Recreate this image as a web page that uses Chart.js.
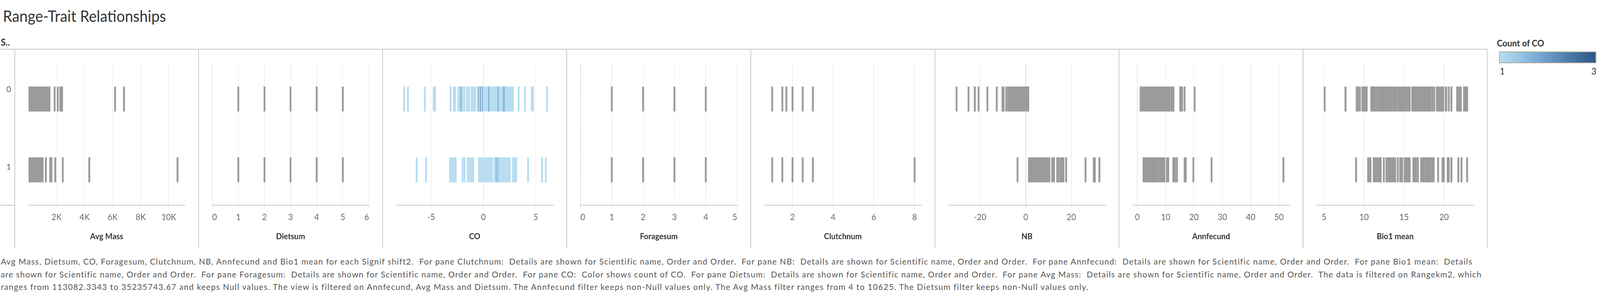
<!DOCTYPE html>
<html>
<head>
<meta charset="utf-8">
<script src="https://cdn.jsdelivr.net/npm/chart.js@4.4.1/dist/chart.umd.min.js"></script>
<style>
html,body{margin:0;padding:0;background:#fff;overflow:hidden;}
#stage{position:absolute;left:0;top:0;width:4328px;height:756px;overflow:hidden;transform-origin:0 0;
  font-family:Lato,'Open Sans',sans-serif;background:#fff;}
.abs{position:absolute;white-space:pre;line-height:1.2;}
#title{left:8px;top:16.5px;font-size:40px;color:#333;}
#rowhdr{left:2px;top:94px;font-size:24px;font-weight:bold;color:#333;}
.rowlbl{left:0;width:30px;text-align:right;font-size:22px;color:#666;}
.cap{left:2px;font-size:22px;color:#555;}
.cap span{display:inline-block;white-space:pre;}
.vline{position:absolute;width:2px;background:#c8c8c8;z-index:5;}
.hline{position:absolute;height:2px;background:#c8c8c8;z-index:5;}
canvas{position:absolute;top:126px;}
#legTitle{left:4049px;top:97px;font-size:23px;font-weight:bold;color:#333;}
#legBar{position:absolute;left:4055px;top:132px;width:263px;height:30px;box-sizing:border-box;border:2px solid #aaa69a;
  background:linear-gradient(to right,#b9ddf1 0%,#8fc0e2 25%,#6a9bc6 50%,#4a78a6 75%,#2a5783 100%);}
.legLbl{top:169px;font-size:23px;color:#333;}
</style>
</head>
<body>
<div id="stage">
<div id="title" class="abs">Range-Trait Relationships</div>
<div id="rowhdr" class="abs">S..</div>
<div class="abs rowlbl" style="top:215px;">0</div>
<div class="abs rowlbl" style="top:414px;">1</div>

<div id="legTitle" class="abs">Count of CO</div>
<div id="legBar"></div>
<div class="abs legLbl" style="left:4057px;">1</div>
<div class="abs legLbl" style="right:10px;text-align:right;">3</div>

<div class="abs cap" style="top:656.5px;"><span class="capline">Avg Mass, Dietsum, CO, Foragesum, Clutchnum, NB, Annfecund and Bio1 mean for each Signif shift2.  For pane Clutchnum:  Details are shown for Scientific name, Order and Order.  For pane NB:  Details are shown for Scientific name, Order and Order.  For pane Annfecund:  Details are shown for Scientific name, Order and Order.  For pane Bio1 mean:  Details</span></div>
<div class="abs cap" style="top:690px;"><span class="capline">are shown for Scientific name, Order and Order.  For pane Foragesum:  Details are shown for Scientific name, Order and Order.  For pane CO:  Color shows count of CO.  For pane Dietsum:  Details are shown for Scientific name, Order and Order.  For pane Avg Mass:  Details are shown for Scientific name, Order and Order.  The data is filtered on Rangekm2, which</span></div>
<div class="abs cap" style="top:721.5px;"><span class="capline">ranges from 113082.3343 to 35235743.67 and keeps Null values. The view is filtered on Annfecund, Avg Mass and Dietsum. The Annfecund filter keeps non-Null values only. The Avg Mass filter ranges from 4 to 10625. The Dietsum filter keeps non-Null values only.</span></div>
</div>

<script>
// ---------------- DATA ----------------
const rows = ['0', '1'];
const paneTitles = ['Avg Mass', 'Dietsum', 'CO', 'Foragesum', 'Clutchnum', 'NB', 'Annfecund', 'Bio1 mean'];

const avgMassRow0 = [40,130,220,310,400,490,580,670,760,850,940,1030,1120,1200,1320,1380,1500,1865,2090,2270,2340,2400,6180,6810];
const avgMassRow1 = [40,130,220,310,400,490,580,670,750,875,945,1010,1236,1550,1640,1910,2450,4337,10625];

const dietsumRow0 = [1,2,3,4,5];
const dietsumRow1 = [1,2,3,4,5];

// CO marks, split by Count of CO
const coRow0Count1 = [-7.58,-7.22,-5.60,-4.75,-4.63,-3.13,-2.83,-2.71,-2.41,-2.29,-2.17,-2.05,-1.99,-1.80,-1.56,-1.44,-1.38,
  -1.14,-1.02,-0.90,-0.78,-0.54,-0.42,-0.30,-0.18,-0.06,0.06,0.18,0.30,0.42,0.54,0.66,0.78,0.90,1.02,1.14,1.26,1.38,1.50,
  1.62,1.74,1.86,1.98,2.10,2.22,2.29,2.47,2.59,2.71,2.83,3.37,3.97,4.63,4.75,6.08];
const coRow0Count2 = [-2.15,-0.46,-0.28,-0.10,0.50,1.40,1.89,2.01];
const coRow1Count1 = [-6.38,-5.48,-3.19,-3.13,-2.95,-2.83,-2.71,-2.65,-1.99,-1.80,-1.50,-1.32,-1.20,-1.08,-0.96,
  -0.42,-0.30,-0.18,-0.06,0.06,0.18,0.30,0.42,0.54,0.66,0.78,0.84,1.08,1.20,1.32,1.44,1.56,1.68,1.80,1.92,2.04,2.11,
  2.29,2.35,2.53,2.83,2.95,3.07,3.13,4.27,5.60,5.96];
const coRow1Count2 = [1.22,1.38];

const foragesumRow0 = [1,2,3,4];
const foragesumRow1 = [1,2,3,4];

const clutchnumRow0 = [1,1.5,1.7,2,2.5,3];
const clutchnumRow1 = [1,1.5,2,2.5,3,8];

const nbRow0 = [-30.3,-25.1,-22.3,-20.7,-16.8,-12.7,-10.2,-9.7,-8.55,-7.7,-7.2,-6.7,-6.2,-5.7,-5.2,-4.7,-4.2,-3.7,-3.2,-2.7,
  -2.2,-1.7,-1.2,-0.7,-0.2,0.3,0.8,1.1];
const nbRow1 = [-3.6,1.4,1.9,2.4,2.9,3.4,3.9,4.4,4.9,5.4,5.9,6.4,6.9,7.4,7.9,8.4,8.9,9.4,9.9,10.4,11.6,12.4,13.8,14.3,
  15.2,15.7,16.2,16.5,17.7,26.2,29.8,30.3,32.3];

const annfecundRow0 = [1.15,1.8,2.25,2.7,3.15,3.6,4.05,4.5,4.95,5.4,5.85,6.3,6.75,7.2,7.65,8.1,8.55,9.0,9.2,9.8,10.25,10.7,
  11.15,11.4,12.07,12.6,12.75,15.14,15.8,16.67,20.2];
const annfecundRow1 = [2.2,2.65,3.1,3.55,4.0,4.45,4.9,5.35,5.8,6.25,6.7,7.1,7.8,8.25,8.7,9.15,9.55,10.45,10.9,12.7,13.3,
  14.0,16.7,17.1,19.78,26.22,51.56];

const bio1Row0 = [5.08,7.68,9.08,9.24,9.48,9.8,10.0,10.17,10.34,10.9,11.05,11.2,11.37,11.61,11.69,11.93,12.09,12.25,12.40,
  12.56,12.72,12.88,13.04,13.2,13.35,13.5,13.74,13.9,14.05,14.29,14.45,14.6,14.75,14.9,15.05,15.16,15.4,15.55,15.71,
  16.03,16.19,16.35,16.5,16.66,16.82,16.98,17.13,17.29,17.45,17.6,17.76,17.92,18.08,18.23,18.31,18.55,18.78,
  19.1,19.26,19.41,19.57,19.73,19.89,20.21,20.29,20.6,20.92,21.63,21.79,21.95,22.1,22.5,22.66,22.82,22.89];
const bio1Row1 = [9.0,10.5,10.58,10.82,11.22,11.33,11.45,11.69,11.85,12.0,12.08,12.48,12.79,12.95,13.1,13.26,13.42,13.58,
  13.74,13.89,14.21,14.52,14.76,15.08,15.24,15.4,15.55,15.71,16.18,16.34,16.5,16.74,17.13,17.29,17.45,17.52,17.76,17.92,
  18.08,18.23,18.47,18.6,18.7,19.26,19.81,19.97,20.45,20.6,20.92,21.79,22.18,22.89];

// tick values and labels
const avgMassTicks = [2000,4000,6000,8000,10000];
const avgMassTickLabels = ['2K','4K','6K','8K','10K'];
const dietsumTicks = [0,1,2,3,4,5,6];
const dietsumTickLabels = ['0','1','2','3','4','5','6'];
const coTicks = [-5,0,5];
const coTickLabels = ['-5','0','5'];
const foragesumTicks = [0,1,2,3,4,5];
const foragesumTickLabels = ['0','1','2','3','4','5'];
const clutchnumTicks = [2,4,6,8];
const clutchnumTickLabels = ['2','4','6','8'];
const nbTicks = [-20,0,20];
const nbTickLabels = ['-20','0','20'];
const annfecundTicks = [0,10,20,30,40,50];
const annfecundTickLabels = ['0','10','20','30','40','50'];
const bio1Ticks = [5,10,15,20];
const bio1TickLabels = ['5','10','15','20'];

// ---------------- STYLE / LAYOUT ----------------
const FONT = 'Lato, "Open Sans", sans-serif';
const GRAY = '#9b9b9b';
const countColors = {1: '#b9ddf1', 2: '#6a9bc6', 3: '#2a5783'};
const paneEdges = [40, 537, 1035, 1533, 2031, 2529, 3027, 3525, 4023];
const canvasH = 511, axisH = 111;
const stage = document.getElementById('stage');

const panes = [
  {min: 0, max: 11150, ticks: avgMassTicks, labels: avgMassTickLabels, align: 'center',
   series: [{data: avgMassRow0, row: 0}, {data: avgMassRow1, row: 1}]},
  {min: 0, max: 6, ticks: dietsumTicks, labels: dietsumTickLabels, align: 'inner',
   series: [{data: dietsumRow0, row: 0}, {data: dietsumRow1, row: 1}]},
  {min: -8.33, max: 6.66, ticks: coTicks, labels: coTickLabels, align: 'center',
   series: [{data: coRow0Count2, row: 0, count: 2}, {data: coRow1Count2, row: 1, count: 2},
            {data: coRow0Count1, row: 0, count: 1}, {data: coRow1Count1, row: 1, count: 1}]},
  {min: 0, max: 5, ticks: foragesumTicks, labels: foragesumTickLabels, align: 'inner',
   series: [{data: foragesumRow0, row: 0}, {data: foragesumRow1, row: 1}]},
  {min: 0.623, max: 8.33, ticks: clutchnumTicks, labels: clutchnumTickLabels, align: 'center',
   series: [{data: clutchnumRow0, row: 0}, {data: clutchnumRow1, row: 1}]},
  {min: -33.8, max: 34.9, ticks: nbTicks, labels: nbTickLabels, align: 'center',
   series: [{data: nbRow0, row: 0}, {data: nbRow1, row: 1}]},
  {min: -1.63, max: 53.7, ticks: annfecundTicks, labels: annfecundTickLabels, align: 'center',
   series: [{data: annfecundRow0, row: 0}, {data: annfecundRow1, row: 1}]},
  {min: 4.10, max: 23.69, ticks: bio1Ticks, labels: bio1TickLabels, align: 'center',
   series: [{data: bio1Row0, row: 0}, {data: bio1Row1, row: 1}]}
];

function addLine(cls, styles) {
  const d = document.createElement('div');
  d.className = cls;
  Object.assign(d.style, styles);
  stage.appendChild(d);
}

function build() {
  // the design is laid out on a 4328px-wide stage; fit it to the actual viewport width
  const sx = (window.innerWidth || 4328) / 4328;
  stage.style.transform = 'scale(' + sx + ', 1)';

  addLine('hline', {left: '0px', top: '125px', width: (paneEdges[8] + 1) + 'px'});
  addLine('hline', {left: '0px', top: '525px', width: '41px'});
  paneEdges.forEach(x => addLine('vline', {left: (x - 1) + 'px', top: '125px', height: (637 - 125) + 'px'}));

  panes.forEach((pane, i) => {
    const left = paneEdges[i], w = paneEdges[i + 1] - paneEdges[i];
    const cv = document.createElement('canvas');
    cv.width = w; cv.height = canvasH;
    cv.style.left = left + 'px';
    cv.style.width = w + 'px'; cv.style.height = canvasH + 'px';
    stage.appendChild(cv);

    const datasets = pane.series.map(s => {
      const color = s.count ? countColors[s.count] : GRAY;
      const bw = s.count === 2 ? 1.6 : 5;
      return {
        data: s.data.map(v => ({x: v, y: rows[s.row]})),
        showLine: false,
        pointStyle: 'line',
        pointRotation: 90,
        pointRadius: 32,
        pointHoverRadius: 32,
        pointBorderWidth: bw,
        pointHoverBorderWidth: bw,
        pointBorderColor: color,
        pointBackgroundColor: color
      };
    });

    new Chart(cv, {
      type: 'scatter',
      data: {datasets},
      options: {
        responsive: false,
        animation: false,
        events: [],
        devicePixelRatio: 2,
        layout: {padding: 0},
        plugins: {legend: {display: false}, tooltip: {enabled: false}},
        scales: {
          x: {
            type: 'linear',
            min: pane.min,
            max: pane.max,
            afterBuildTicks: s => { s.ticks = pane.ticks.map(v => ({value: v})); },
            afterFit: s => { s.height = axisH; },
            ticks: {
              autoSkip: false, maxRotation: 0, minRotation: 0,
              align: pane.align, padding: 0, color: '#666',
              font: {family: FONT, size: 22, lineHeight: 2},
              callback: (v, idx) => pane.labels[idx]
            },
            grid: {
              color: c => (c.tick && c.tick.value === 0) ? '#c4c4c4' : '#ededed',
              lineWidth: 1.5,
              drawTicks: true,
              tickLength: 9,
              tickColor: '#e6e6e6',
              tickWidth: 1.5
            },
            border: {
              display: true, color: '#c8c8c8', width: 2,
              dash: c => (c.tick && c.tick.value === 0) ? [3, 2] : []
            },
            title: {
              display: true, text: paneTitles[i], color: '#333',
              font: {family: FONT, size: 21, weight: 'bold'},
              padding: {top: 0, bottom: 18}
            }
          },
          y: {type: 'category', labels: rows, offset: true, display: false}
        }
      }
    });
  });

  // fit caption lines to the reference line lengths (layout widths, untransformed)
  const capTargets = [3981, 4006, 2942];
  document.querySelectorAll('.capline').forEach((el, i) => {
    const wdt = el.offsetWidth;
    const n = el.textContent.length;
    el.style.letterSpacing = ((capTargets[i] - wdt) / n) + 'px';
  });
}

if (document.fonts && document.fonts.load) {
  Promise.all([
    document.fonts.load('22px Lato'), document.fonts.load('bold 22px Lato'), document.fonts.load('40px Lato')
  ]).then(build, build);
} else {
  build();
}
</script>
</body>
</html>
